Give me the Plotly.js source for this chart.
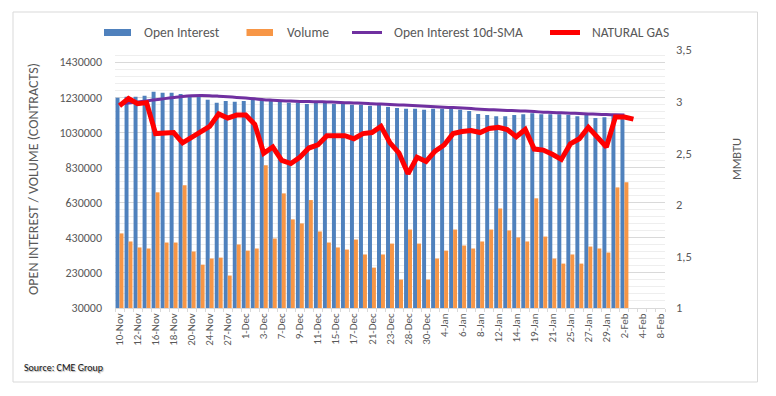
<!DOCTYPE html>
<html>
<head>
<meta charset="utf-8">
<script src="https://cdn.plot.ly/plotly-3.0.1.min.js"></script>
<style>
  html, body { margin: 0; padding: 0; background: #fff; }
  #chart { width: 776px; height: 396px; }
</style>
</head>
<body>
<div id="chart"></div>
<script>
// Categories (trading days)
const dates = ["10-Nov","11-Nov","12-Nov","13-Nov","16-Nov","17-Nov","18-Nov","19-Nov","20-Nov","23-Nov","24-Nov","25-Nov","27-Nov","30-Nov",
  "1-Dec","2-Dec","3-Dec","4-Dec","7-Dec","8-Dec","9-Dec","10-Dec","11-Dec","14-Dec","15-Dec","16-Dec","17-Dec","18-Dec","21-Dec","22-Dec","23-Dec","24-Dec","28-Dec","29-Dec","30-Dec","31-Dec",
  "4-Jan","5-Jan","6-Jan","7-Jan","8-Jan","11-Jan","12-Jan","13-Jan","14-Jan","15-Jan","19-Jan","20-Jan","21-Jan","22-Jan","25-Jan","26-Jan","27-Jan","28-Jan","29-Jan",
  "1-Feb","2-Feb","3-Feb","4-Feb","5-Feb","8-Feb"];

// Shown x tick labels
const xTickLabels = ["10-Nov","12-Nov","16-Nov","18-Nov","20-Nov","24-Nov","27-Nov","1-Dec","3-Dec","7-Dec","9-Dec","11-Dec","15-Dec","17-Dec",
  "21-Dec","23-Dec","28-Dec","30-Dec","4-Jan","6-Jan","8-Jan","12-Jan","14-Jan","19-Jan","21-Jan","25-Jan","27-Jan","29-Jan","2-Feb","4-Feb","8-Feb"];

// Open interest (contracts)
const openInterest = [1228000,1233000,1233000,1239000,1262000,1256000,1256000,1250000,1240000,1236000,
  1216000,1199000,1210000,1205000,1210000,1216000,1215000,1210000,1205000,1199000,
  1199000,1193000,1199000,1199000,1193000,1193000,1188000,1188000,1182000,1188000,
  1176000,1170000,1165000,1165000,1159000,1165000,1165000,1165000,1159000,1153000,
  1136000,1129000,1123000,1123000,1129000,1134000,1140000,1134000,1134000,1134000,
  1129000,1123000,1129000,1112000,1117000,1134000,1129000];

// Volume (contracts)
const volume = [455000,409000,375000,369000,689000,403000,403000,729000,352000,277000,
  312000,317000,215000,392000,357000,369000,843000,426000,683000,535000,
  512000,645000,466000,403000,375000,363000,420000,335000,260000,335000,
  397000,192000,477000,397000,192000,312000,357000,477000,386000,369000,
  409000,477000,597000,472000,432000,409000,655000,437000,312000,283000,
  335000,283000,380000,369000,346000,717000,746000];

// Open Interest 10d-SMA
const oiSma = [1192000,1198000,1204000,1210000,1217000,1223000,1229000,1235000,1239000,1241000,
  1240000,1237000,1234000,1230000,1226000,1222000,1217000,1214000,1211000,1209000,
  1207000,1206000,1205000,1204000,1202000,1200000,1198000,1197000,1194000,1192000,
  1189000,1187000,1185000,1182000,1179000,1177000,1174000,1172000,1169000,1166000,
  1163000,1160000,1158000,1156000,1154000,1152000,1149000,1146000,1144000,1142000,
  1140000,1138000,1136000,1134000,1132000,1131000,1130000];

// Natural gas price (MMBTU)
const natGas = [2.96,3.03,2.98,2.99,2.69,2.69,2.70,2.60,2.65,2.70,
  2.76,2.88,2.84,2.87,2.87,2.78,2.50,2.56,2.43,2.40,
  2.46,2.55,2.58,2.67,2.67,2.67,2.64,2.69,2.70,2.76,
  2.60,2.50,2.30,2.46,2.42,2.52,2.58,2.69,2.71,2.72,
  2.70,2.74,2.75,2.73,2.66,2.73,2.54,2.53,2.49,2.44,
  2.59,2.64,2.75,2.66,2.56,2.85,2.85,2.83];

// Axis tick labels
const leftTickVals = [30000,230000,430000,630000,830000,1030000,1230000,1430000];
const leftTickLabels = ["30000","230000","430000","630000","830000","1030000","1230000","1430000"];
const rightTickVals = [1,1.5,2,2.5,3,3.5];
const rightTickLabels = ["1","1,5","2","2,5","3","3,5"];

const seriesNames = ["Open Interest","Volume","Open Interest 10d-SMA","NATURAL GAS"];
const colors = ["#4f81bd","#f79646","#7030a0","#ff0000"];

const FONT = "Carlito, Lato, 'Open Sans', sans-serif";
const GREY = "#595959";

const traces = [
  { type: "bar", name: seriesNames[0], x: dates.slice(0, openInterest.length), y: openInterest,
    marker: { color: colors[0] }, yaxis: "y", showlegend: false, hoverinfo: "skip" },
  { type: "bar", name: seriesNames[1], x: dates.slice(0, volume.length), y: volume,
    marker: { color: colors[1] }, yaxis: "y", showlegend: false, hoverinfo: "skip" },
  { type: "scatter", mode: "lines", name: seriesNames[2], x: dates.slice(0, oiSma.length), y: oiSma,
    line: { color: colors[2], width: 3, shape: "spline", smoothing: 0.6 }, yaxis: "y", showlegend: false, hoverinfo: "skip" },
  { type: "scatter", mode: "lines", name: seriesNames[3], x: dates.slice(0, natGas.length), y: natGas,
    line: { color: colors[3], width: 5 }, yaxis: "y2", showlegend: false, hoverinfo: "skip" }
];

// helpers: pixel -> paper coordinates (plot area 115..665 x, 50..308 y)
const L = 115, R = 111, T = 50, B = 88, W = 776, H = 396;
const pw = W - L - R, ph = H - T - B;
const px = v => (v - L) / pw;
const py = v => (H - B - v) / ph;

// custom legend (symbols + labels)
const legendShapes = [
  { type: "rect", xref: "paper", yref: "paper", x0: px(104), x1: px(131), y0: py(36), y1: py(29), fillcolor: colors[0], line: { width: 0 } },
  { type: "rect", xref: "paper", yref: "paper", x0: px(246.5), x1: px(273), y0: py(36), y1: py(29), fillcolor: colors[1], line: { width: 0 } },
  { type: "line", xref: "paper", yref: "paper", x0: px(352), x1: px(382), y0: py(32.5), y1: py(32.5), line: { color: colors[2], width: 3 } },
  { type: "line", xref: "paper", yref: "paper", x0: px(550), x1: px(580), y0: py(32.5), y1: py(32.5), line: { color: colors[3], width: 5 } }
];
const legendTextX = [142, 284.5, 392, 589.5];
const legendAnn = seriesNames.map((n, i) => ({
  xref: "paper", yref: "paper", x: px(legendTextX[i]), y: py(32), xanchor: "left", yanchor: "middle",
  text: n, showarrow: false, font: { family: FONT, size: 13.5, color: GREY }
}));

const layout = {
  width: W, height: H,
  margin: { l: L, r: R, t: T, b: B },
  paper_bgcolor: "#ffffff", plot_bgcolor: "#ffffff",
  font: { family: FONT, color: GREY, size: 12 },
  barmode: "group", bargap: 0.12, bargroupgap: 0,
  showlegend: false,
  xaxis: {
    type: "category", categoryorder: "array", categoryarray: dates,
    range: [-0.5, dates.length - 0.5],
    tickmode: "array", tickvals: dates, ticktext: dates.map(d => xTickLabels.includes(d) ? d : ""),
    tickson: "boundaries", ticks: "outside", ticklen: 3, tickcolor: "#d9d9d9",
    tickangle: -90, tickfont: { family: FONT, size: 11, color: GREY },
    showline: true, linecolor: "#d9d9d9", linewidth: 1, showgrid: false, zeroline: false
  },
  yaxis: {
    range: [30000, 1500000],
    tickmode: "array", tickvals: leftTickVals, ticktext: leftTickLabels,
    tickfont: { family: FONT, size: 12, color: GREY },
    showgrid: true, gridcolor: "#d9d9d9", gridwidth: 1, zeroline: false, showline: false, ticks: "",
    ticklabelstandoff: 12,
    minor: { tickmode: "linear", tick0: 30000, dtick: 40000, showgrid: true, gridcolor: "#eeeeee", gridwidth: 1, ticks: "" },
    title: { text: "OPEN INTEREST / VOLUME (CONTRACTS)", font: { family: FONT, size: 14, color: GREY }, standoff: 17 }
  },
  yaxis2: {
    overlaying: "y", side: "right", range: [1, 3.5],
    tickmode: "array", tickvals: rightTickVals, ticktext: rightTickLabels,
    tickfont: { family: FONT, size: 12.5, color: GREY },
    showgrid: false, zeroline: false, showline: false, ticks: "",
    ticklabelstandoff: 10
  },
  shapes: [
    { type: "rect", xref: "paper", yref: "paper", x0: px(13), x1: px(757.5), y0: py(382), y1: py(12),
      line: { color: "#d9d9d9", width: 1 }, fillcolor: "rgba(0,0,0,0)", layer: "below" }
  ].concat(legendShapes),
  annotations: legendAnn.concat([
    { xref: "paper", yref: "paper", x: px(736), y: py(159), xanchor: "center", yanchor: "middle",
      text: "MMBTU", textangle: -90, showarrow: false, font: { family: FONT, size: 12.5, color: GREY } },
    { xref: "paper", yref: "paper", x: px(22), y: py(367), xanchor: "left", yanchor: "middle",
      text: "Source: CME Group", showarrow: false,
      font: { family: FONT, size: 10, color: "#111111", shadow: "1px 1px 1px #aaaaaa" } }
  ])
};

Plotly.newPlot("chart", traces, layout, { displayModeBar: false, staticPlot: true });
</script>
</body>
</html>
